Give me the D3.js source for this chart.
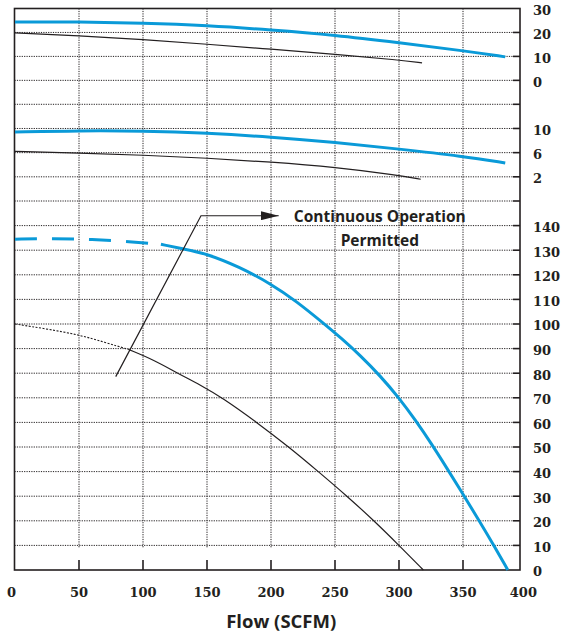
<!DOCTYPE html>
<html><head><meta charset="utf-8">
<script src="https://cdn.jsdelivr.net/npm/d3@7"></script>
<style>body{margin:0;background:#fff}svg{display:block}</style>
</head><body><svg id="c" width="564" height="638"></svg>
<script>
// ---------------- DATA ----------------
const xTickValues = [0, 50, 100, 150, 200, 250, 300, 350, 400];
const topLabels = [30, 20, 10, 0];
const topGrid = [20, 10, 0, -10];
const midLabels = [10, 6, 2];
const midGrid = [10, 6, 2, -2];
const botLabels = [140, 130, 120, 110, 100, 90, 80, 70, 60, 50, 40, 30, 20, 10, 0];
const botGrid = [140, 130, 120, 110, 100, 90, 80, 70, 60, 50, 40, 30, 20, 10];

// top panel
const topBlue = [[0,24.4],[50,24.4],[100,23.9],[150,22.9],[200,21.1],[250,18.9],[300,15.7],[350,12.4],[383,9.8]];
const topBlack = [[0,19.8],[50,18.7],[100,17.0],[150,15.1],[200,13.0],[250,10.9],[300,8.5],[318,7.3]];
// middle panel
const midBlue = [[0,9.4],[50,9.65],[100,9.6],[150,9.25],[200,8.6],[250,7.7],[300,6.6],[350,5.4],[383,4.3]];
const midBlack = [[0,6.2],[50,5.93],[100,5.6],[150,5.1],[200,4.45],[250,3.6],[300,2.25],[317,1.6]];
// bottom panel
const botBlueDashed = [[0,134.5],[30,134.8],[60,134.4],[90,133.5],[114,132.4]];
const botBlue = [[114,132.4],[133,130.4],[150,128.5],[175,123.3],[200,116.3],[220,109.2],[241,100.3],[255,94.2],[270,87.1],[285,79.1],[300,70],[313,60.8],[325,51.6],[338,40.9],[350,30.8],[362,20.6],[374,10.1],[385,0]];
const botBlackDotted = [[0,100],[25,98],[50,95.6],[70,92.6],[89,89.6]];
const botBlack = [[89,89.6],[108,85.5],[127,80],[145,75.2],[162,70],[189,60],[214,50],[237,40],[259.5,30],[280.5,20],[300,10],[319,0]];
// annotation arrow (bottom panel data coords)
const arrowPts = [[78.7,78.6],[145.3,144],[206,144]];
const annoText = ["Continuous Operation", "Permitted"];
const annoPos = [[285,141.6],[285,131.6]];
const xTitle = "Flow (SCFM)";

// ---------------- LAYOUT ----------------
const svg = d3.select('#c');
const ink = '#231f20';
const blue = '#0a9ad8';
const plotLeft = 14.5, plotRight = 520, plotTop = 8.5, plotBottom = 570;

const x = d3.scaleLinear().domain([0, 400]).range([15, 527]);
const yTop = d3.scaleLinear().domain([-10, 30]).range([104.3, plotTop]);
const yMid = d3.scaleLinear().domain([-2, 14]).range([201, 104.3]);
const yBot = d3.scaleLinear().domain([0, 150]).range([plotBottom, 201]);

const gridYs = [...topGrid.map(yTop), ...midGrid.map(yMid), ...botGrid.map(yBot)];

// horizontal dotted gridlines
svg.append('g').selectAll('line').data(gridYs).join('line')
  .attr('x1', plotLeft).attr('x2', plotRight - 7)
  .attr('y1', d => d).attr('y2', d => d)
  .attr('stroke', ink).attr('stroke-width', 1).attr('stroke-dasharray', '1.2,1.2');
// right-side solid ticks
svg.append('g').selectAll('line').data(gridYs).join('line')
  .attr('x1', plotRight - 7).attr('x2', plotRight)
  .attr('y1', d => d).attr('y2', d => d)
  .attr('stroke', ink).attr('stroke-width', 1.6);

// vertical dotted gridlines
const innerX = xTickValues.filter(v => v > 0 && v < 400);
svg.append('g').selectAll('line').data(innerX).join('line')
  .attr('x1', d => x(d)).attr('x2', d => x(d))
  .attr('y1', plotTop).attr('y2', yBot(10) + 3)
  .attr('stroke', ink).attr('stroke-width', 1).attr('stroke-dasharray', '1.2,1.2');
// bottom ticks
svg.append('g').selectAll('line').data(innerX).join('line')
  .attr('x1', d => x(d)).attr('x2', d => x(d))
  .attr('y1', plotBottom - 10).attr('y2', plotBottom)
  .attr('stroke', ink).attr('stroke-width', 1.6);

// frame
svg.append('rect').attr('x', plotLeft).attr('y', plotTop)
  .attr('width', plotRight - plotLeft).attr('height', plotBottom - plotTop)
  .attr('fill', 'none').attr('stroke', ink).attr('stroke-width', 1.6);

// curves
function draw(data, ys, color, width, dash) {
  const line = d3.line().x(d => x(d[0])).y(d => ys(d[1])).curve(d3.curveBasis);
  svg.append('path').datum(data).attr('d', line)
    .attr('fill', 'none').attr('stroke', color).attr('stroke-width', width)
    .attr('stroke-dasharray', dash || null).attr('stroke-linecap', 'butt');
}
draw(topBlack, yTop, ink, 1.2);
draw(topBlue, yTop, blue, 3);
draw(midBlack, yMid, ink, 1.2);
draw(midBlue, yMid, blue, 3);
draw(botBlackDotted, yBot, ink, 1.1, '2,1.5');
draw(botBlack, yBot, ink, 1.2);
draw(botBlueDashed, yBot, blue, 3, '22,15');
draw(botBlue, yBot, blue, 3);

// annotation arrow
svg.append('defs').append('marker').attr('id', 'ah')
  .attr('viewBox', '0 0 18 9').attr('refX', 18).attr('refY', 4.5)
  .attr('markerWidth', 18).attr('markerHeight', 9).attr('markerUnits', 'userSpaceOnUse')
  .attr('orient', 'auto')
  .append('path').attr('d', 'M0,0 L18,4.5 L0,9 Z').attr('fill', ink);
svg.append('path').datum(arrowPts)
  .attr('d', d3.line().x(d => x(d[0])).y(d => yBot(d[1])))
  .attr('fill', 'none').attr('stroke', ink).attr('stroke-width', 1.2)
  .attr('marker-end', 'url(#ah)');

svg.append('g').selectAll('text').data(annoText).join('text')
  .attr('x', (d, i) => x(annoPos[i][0])).attr('y', (d, i) => yBot(annoPos[i][1]))
  .attr('text-anchor', 'middle')
  .attr('font-family', '"Open Sans", sans-serif').attr('font-weight', 'bold')
  .attr('font-size', 15.5).attr('fill', ink).text(d => d);

// right labels
const rightLabels = [
  ...topLabels.map(v => ({v, y: yTop(v)})),
  ...midLabels.map(v => ({v, y: yMid(v)})),
  ...botLabels.map(v => ({v, y: yBot(v)}))
];
svg.append('g').selectAll('text').data(rightLabels).join('text')
  .attr('x', 533).attr('y', d => d.y + 6.3)
  .attr('font-family', '"DejaVu Serif", serif').attr('font-weight', 'bold')
  .attr('font-size', 13).attr('fill', ink).text(d => d.v);

// bottom labels
svg.append('g').selectAll('text').data(xTickValues).join('text')
  .attr('x', d => x(d) + ((d === 0 || d === 400) ? -3.6 : 0)).attr('y', 597)
  .attr('text-anchor', 'middle')
  .attr('font-family', '"DejaVu Serif", serif').attr('font-weight', 'bold')
  .attr('font-size', 13).attr('fill', ink).text(d => d);

// axis title
svg.append('text').attr('x', x(208)).attr('y', 628)
  .attr('text-anchor', 'middle')
  .attr('font-family', '"Open Sans", sans-serif').attr('font-weight', 'bold')
  .attr('font-size', 18.5).attr('fill', ink).text(xTitle);
</script>
</body></html>
